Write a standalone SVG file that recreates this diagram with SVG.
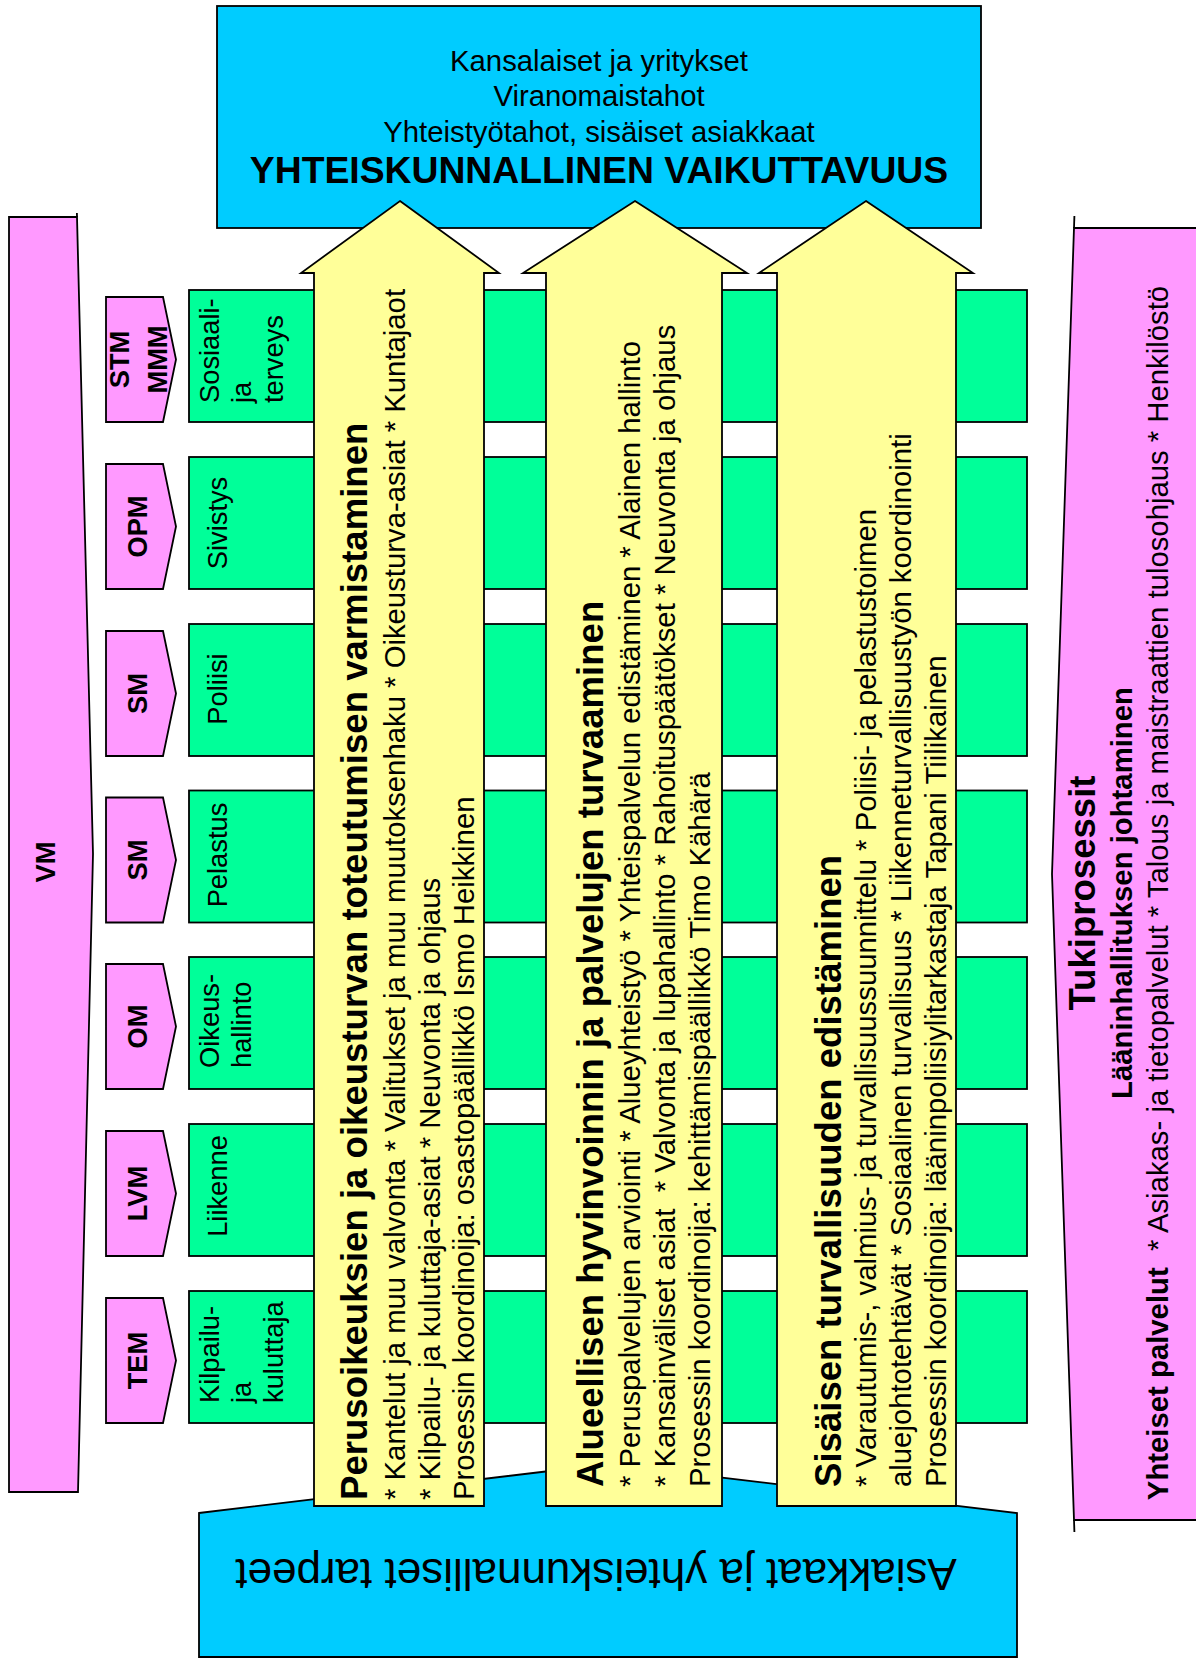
<svg xmlns="http://www.w3.org/2000/svg" width="1196" height="1659" viewBox="0 0 1196 1659">
<style>
.blue{fill:#00CCFF;stroke:#000;stroke-width:1.8}
.pink{fill:#FF99FF;stroke:#000;stroke-width:1.8}
.green{fill:#00FF99;stroke:#000;stroke-width:1.8}
.yellow{fill:#FFFF99;stroke:#000;stroke-width:1.8}
.edge{fill:none;stroke:#000;stroke-width:1.8}
text{font-family:"Liberation Sans",Arial,sans-serif;fill:#000}
.r29{font-size:29.3px}
.b37{font-size:36.6px;font-weight:bold}
.b29{font-size:29.3px;font-weight:bold}
.g{font-size:27.3px}
.m{font-size:27.3px;font-weight:bold}
.mid{text-anchor:middle}
</style>
<rect x="0" y="0" width="1196" height="1659" fill="#fff"/>

<g id="vm">
<polygon class="pink" points="9,217 77,217 93,854 78,1492 9,1492"/>
<line class="edge" x1="76.9" y1="213" x2="77" y2="217"/>
<text class="m mid" transform="translate(55,862) rotate(-90)">VM</text>
</g>

<g id="tukiprosessit">
<polygon class="pink" points="1074,228 1200,228 1200,1520 1074,1520 1052,874"/>
<line class="edge" x1="1074.4" y1="216" x2="1074" y2="228"/>
<line class="edge" x1="1074" y1="1520" x2="1074.4" y2="1532"/>
<text class="b37 mid" transform="translate(1095,893) rotate(-90)">Tukiprosessit</text>
<text class="b29 mid" transform="translate(1132,893) rotate(-90)">Lääninhallituksen johtaminen</text>
<text class="r29 mid" xml:space="preserve" transform="translate(1168,893) rotate(-90)"><tspan font-weight="bold">Yhteiset palvelut</tspan>  * Asiakas- ja tietopalvelut * Talous ja maistraattien tulosohjaus * Henkilöstö</text>
</g>

<g id="vaikuttavuus">
<rect class="blue" x="217" y="6" width="764" height="222"/>
<text class="r29 mid" x="599" y="70.7">Kansalaiset ja yritykset</text>
<text class="r29 mid" x="599" y="106">Viranomaistahot</text>
<text class="r29 mid" x="599" y="141.7">Yhteistyötahot, sisäiset asiakkaat</text>
<text class="mid" font-size="37.3" font-weight="bold" x="599" y="183">YHTEISKUNNALLINEN VAIKUTTAVUUS</text>
</g>

<g id="row-sosiaali">
<rect class="green" x="189" y="290" width="838" height="132"/>
<text class="g" transform="translate(219,403) rotate(-90)"><tspan x="0" y="0">Sosiaali-</tspan><tspan x="0" y="32">ja</tspan><tspan x="0" y="64">terveys</tspan></text>
</g>
<g id="row-sivistys">
<rect class="green" x="189" y="457" width="838" height="132"/>
<text class="g mid" transform="translate(227,523) rotate(-90)">Sivistys</text>
</g>
<g id="row-poliisi">
<rect class="green" x="189" y="624" width="838" height="132"/>
<text class="g mid" transform="translate(227,689) rotate(-90)">Poliisi</text>
</g>
<g id="row-pelastus">
<rect class="green" x="189" y="790.5" width="838" height="132"/>
<text class="g mid" transform="translate(227,855) rotate(-90)">Pelastus</text>
</g>
<g id="row-oikeushallinto">
<rect class="green" x="189" y="957" width="838" height="132"/>
<text class="g" transform="translate(219,1068) rotate(-90)"><tspan x="0" y="0">Oikeus-</tspan><tspan x="0" y="32">hallinto</tspan></text>
</g>
<g id="row-liikenne">
<rect class="green" x="189" y="1124" width="838" height="132"/>
<text class="g mid" transform="translate(227,1186) rotate(-90)">Liikenne</text>
</g>
<g id="row-kilpailu">
<rect class="green" x="189" y="1291" width="838" height="132"/>
<text class="g" transform="translate(219,1403) rotate(-90)"><tspan x="0" y="0">Kilpailu-</tspan><tspan x="0" y="32">ja</tspan><tspan x="0" y="64">kuluttaja</tspan></text>
</g>

<g id="min-stm-mmm">
<polygon class="pink" points="106,297 163,297 176,359.5 163,422 106,422"/>
<text class="m mid" transform="translate(129,359.5) rotate(-90)">STM</text>
<text class="m mid" transform="translate(167,359.5) rotate(-90)">MMM</text>
</g>
<g id="min-opm">
<polygon class="pink" points="106,464 163,464 176,526.5 163,589 106,589"/>
<text class="m mid" transform="translate(147,526.5) rotate(-90)">OPM</text>
</g>
<g id="min-sm1">
<polygon class="pink" points="106,631 163,631 176,693.5 163,756 106,756"/>
<text class="m mid" transform="translate(147,693.5) rotate(-90)">SM</text>
</g>
<g id="min-sm2">
<polygon class="pink" points="106,797.5 163,797.5 176,860 163,922.5 106,922.5"/>
<text class="m mid" transform="translate(147,860) rotate(-90)">SM</text>
</g>
<g id="min-om">
<polygon class="pink" points="106,964 163,964 176,1026.5 163,1089 106,1089"/>
<text class="m mid" transform="translate(147,1026.5) rotate(-90)">OM</text>
</g>
<g id="min-lvm">
<polygon class="pink" points="106,1131 163,1131 176,1193.5 163,1256 106,1256"/>
<text class="m mid" transform="translate(147,1193.5) rotate(-90)">LVM</text>
</g>
<g id="min-tem">
<polygon class="pink" points="106,1298 163,1298 176,1360.5 163,1423 106,1423"/>
<text class="m mid" transform="translate(147,1360.5) rotate(-90)">TEM</text>
</g>

<g id="tarpeet">
<polygon class="blue" points="199,1513 608,1464 1017,1513 1017,1657 199,1657"/>
<text class="mid" font-size="44" transform="translate(596,1559) rotate(180)">Asiakkaat ja yhteiskunnalliset tarpeet</text>
</g>

<g id="connectors"></g>

<g id="arrow-perusoikeudet">
<polygon class="yellow" points="400,201 499,273 484,273 484,1506 314,1506 314,273 301,273"/>
<text transform="translate(367,1500) rotate(-90)"><tspan class="b37" x="0" y="0">Perusoikeuksien ja oikeusturvan toteutumisen varmistaminen</tspan><tspan class="r29" x="0" y="38">* Kantelut ja muu valvonta * Valitukset ja muu muutoksenhaku * Oikeusturva-asiat * Kuntajaot</tspan><tspan class="r29" x="0" y="73">* Kilpailu- ja kuluttaja-asiat * Neuvonta ja ohjaus</tspan><tspan class="r29" x="0" y="107">Prosessin koordinoija: osastopäällikkö Ismo Heikkinen</tspan></text>
</g>

<g id="arrow-hyvinvointi">
<polygon class="yellow" points="635,201 747,273 722,273 722,1506 546,1506 546,273 523,273"/>
<text xml:space="preserve" transform="translate(603,1487) rotate(-90)"><tspan class="b37" x="0" y="0">Alueellisen hyvinvoinnin ja palvelujen turvaaminen</tspan><tspan class="r29" x="0" y="37">* Peruspalvelujen arviointi * Alueyhteistyö * Yhteispalvelun edistäminen * Alainen hallinto</tspan><tspan class="r29" x="0" y="72">* Kansainväliset asiat  * Valvonta ja lupahallinto * Rahoituspäätökset * Neuvonta ja ohjaus</tspan><tspan class="r29" x="0" y="107">Prosessin koordinoija: kehittämispäällikkö Timo Kähärä</tspan></text>
</g>

<g id="arrow-turvallisuus">
<polygon class="yellow" points="866,201 973,273 956,273 956,1506 777,1506 777,273 759,273"/>
<text transform="translate(841,1487) rotate(-90)"><tspan class="b37" x="0" y="0">Sisäisen turvallisuuden edistäminen</tspan><tspan class="r29" x="0" y="35">* Varautumis-, valmius- ja turvallisuussuunnittelu * Poliisi- ja pelastustoimen</tspan><tspan class="r29" x="0" y="70">aluejohtotehtävät * Sosiaalinen turvallisuus * Liikenneturvallisuustyön koordinointi</tspan><tspan class="r29" x="0" y="105">Prosessin koordinoija: lääninpoliisiylitarkastaja Tapani Tiilikainen</tspan></text>
</g>
</svg>
